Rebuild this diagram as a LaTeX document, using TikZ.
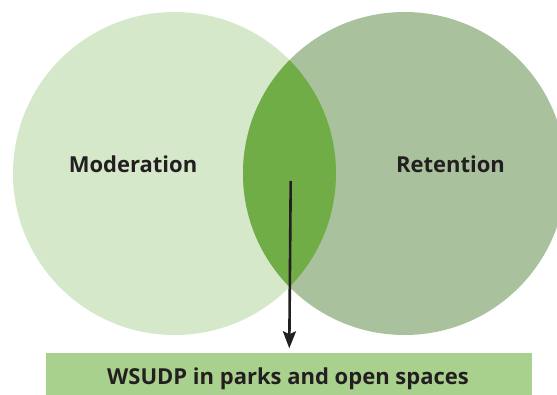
\documentclass[tikz,border=0pt]{standalone}
\usepackage{fontspec}
\setmainfont{Open Sans}
\usetikzlibrary{arrows.meta,calc}
\definecolor{modfill}{HTML}{D5E8C9}
\definecolor{retfill}{HTML}{A9C19C}
\definecolor{lensfill}{HTML}{70AD47}
\definecolor{boxfill}{HTML}{A9D18E}
\definecolor{inkcol}{HTML}{231F20}
\tikzset{
  venn/.style={circle, minimum size=323pt, inner sep=0pt, draw=none},
  vlabel/.style={font=\bfseries\fontsize{22}{26}\selectfont, text=inkcol, inner sep=0pt,
    anchor=base},
  outbox/.style={fill=boxfill, minimum width=486pt, minimum height=42pt, inner sep=0pt},
  outtext/.style={font=\bfseries\fontsize{22}{26}\selectfont, text=inkcol, inner sep=0pt,
    anchor=base},
  flow/.style={draw=inkcol, line width=2.6pt,
    -{Stealth[length=17pt, width=13pt, inset=3pt]}}
}
\begin{document}
\begin{tikzpicture}[x=1pt, y=-1pt]
  \clip (0,0) rectangle (557,395);
  \fill[white] (0,0) rectangle (557,395);
  % the two overlapping sets
  \node[venn, fill=modfill] (mod) at (174.5,173.5) {};
  \node[venn, fill=retfill] (ret) at (404.5,173.5) {};
  % their overlap
  \begin{scope}
    \clip (174.5,173.5) circle (161.5);
    \fill[lensfill] (404.5,173.5) circle (161.5);
  \end{scope}
  \node[vlabel] (modlbl) at (133,173) {Moderation};
  \node[vlabel] (retlbl) at (450.5,173) {Retention};
  % outcome bar
  \node[outbox] (out) at (289,374) {};
  \node[outtext] (outlbl) at (288,384.5) {WSUDP in parks and open spaces};
  \coordinate (src) at (290.7,181);
  \draw[flow] (src) -- ($(out.north)+(0.3,-4.5)$);
\end{tikzpicture}
\end{document}
